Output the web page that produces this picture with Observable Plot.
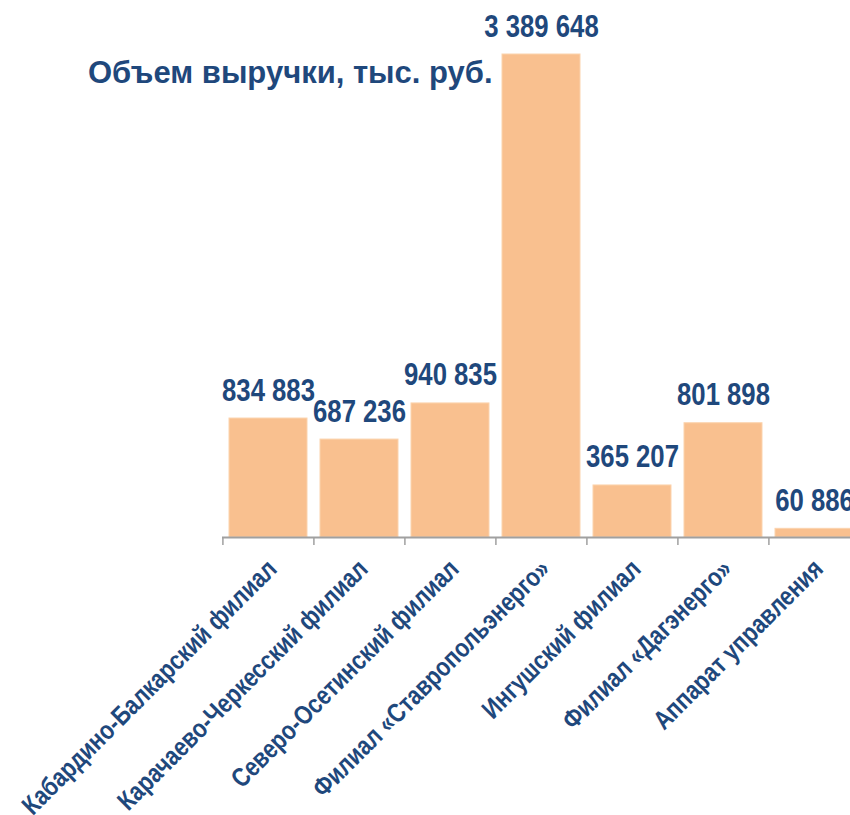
<!DOCTYPE html>
<html>
<head>
<meta charset="utf-8">
<script src="https://cdn.jsdelivr.net/npm/d3@7"></script>
<script src="https://cdn.jsdelivr.net/npm/@observablehq/plot@0.6"></script>
<style>
  html, body { margin: 0; padding: 0; background: #fff; overflow: hidden; }
  #wrap { position: relative; width: 850px; height: 815px; overflow: hidden; }
  #title {
    position: absolute; left: 88px; top: 57px; margin: 0;
    font-family: "Liberation Sans", Arial, sans-serif;
    font-weight: bold; font-size: 31px; line-height: 1; color: #1F487C;
    white-space: nowrap;
  }
</style>
</head>
<body>
<div id="wrap"><div id="title">Объем выручки, тыс. руб.</div></div>
<script>
const categories = [
  "Кабардино-Балкарский филиал",
  "Карачаево-Черкесский филиал",
  "Северо-Осетинский филиал",
  "Филиал «Ставропольэнерго»",
  "Ингушский филиал",
  "Филиал «Дагэнерго»",
  "Аппарат управления"
];
const values = [834883, 687236, 940835, 3389648, 365207, 801898, 60886];

const fmt = d3.formatLocale({thousands: " ", grouping: [3], decimal: ","}).format(",d");
const data = categories.map((c, i) => ({cat: c, value: values[i]}));

const font = '"Liberation Sans", Arial, sans-serif';
const blue = "#1F487C";
const narrow = 0.83; // emulate a condensed face

const chart = Plot.plot({
  width: 861,
  height: 815,
  marginLeft: 222,
  marginRight: 0,
  marginTop: 54,
  marginBottom: 278,
  style: {maxWidth: "none", fontFamily: font, background: "transparent"},
  x: {domain: categories, paddingInner: 0.14, paddingOuter: 0.07, axis: null},
  y: {domain: [0, d3.max(values)], axis: null},
  marks: [
    Plot.barY(data, {x: "cat", y: "value", fill: "#F9C08F", stroke: "#FBD3AD", strokeWidth: 1}),
    Plot.axisX(categories, {tickSize: 8, tickFormat: () => "", label: null, stroke: "#A0A0A0", strokeWidth: 1.5, strokeOpacity: 1, dx: -45.6}),
    Plot.ruleY([0], {stroke: "#A0A0A0", strokeWidth: 2}),
    Plot.text(data, {x: "cat", y: "value", text: d => fmt(d.value), lineAnchor: "bottom", dy: -18,
      fontSize: 31, fontWeight: "bold", fill: blue}),
    Plot.text(data, {x: "cat", frameAnchor: "bottom", text: "cat", rotate: -45, textAnchor: "end",
      lineAnchor: "bottom", dx: 10, dy: 33, fontSize: 26.5, fontWeight: "bold", fill: blue})
  ]
});
chart.querySelectorAll("text").forEach(t => {
  const tr = t.getAttribute("transform") || "";
  const x = t.getAttribute("x");
  if (x != null && x !== "") t.setAttribute("x", +x / narrow);
  t.setAttribute("transform", (tr + ` scale(${narrow},1)`).trim());
});
document.getElementById("wrap").prepend(chart);
</script>
</body>
</html>
